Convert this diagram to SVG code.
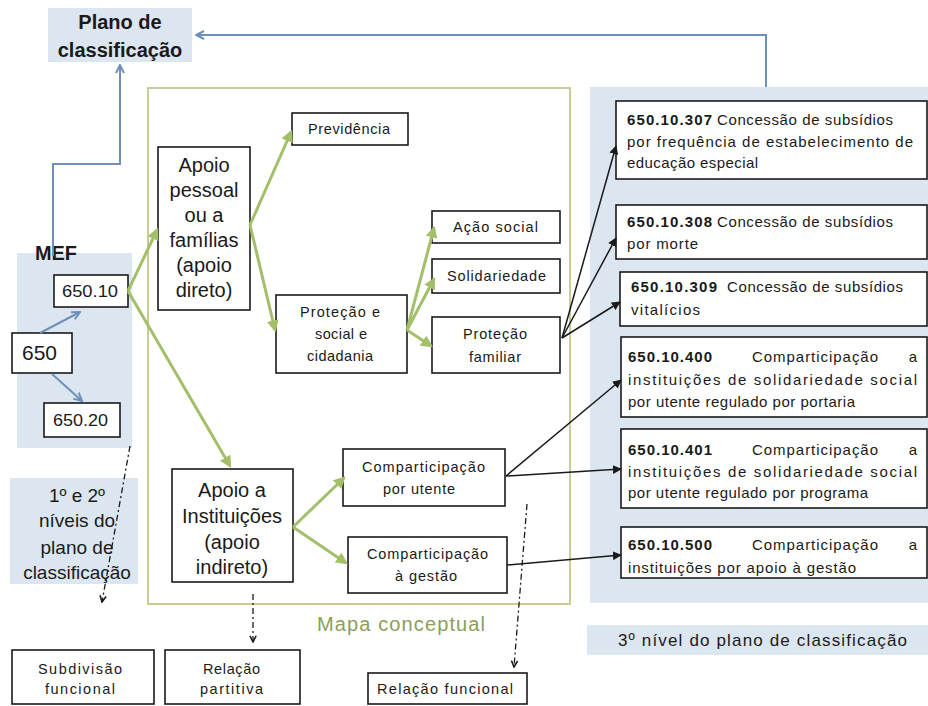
<svg xmlns="http://www.w3.org/2000/svg" width="928" height="706" viewBox="0 0 928 706">
<defs>
<style>
.box{fill:#fff;stroke:#1a1a1a;stroke-width:1.6}
.blue{fill:#dce6f1}
.t{font-family:"Liberation Sans",Arial,sans-serif;fill:#1a1a1a}
.s13{font-size:14.5px}
.s14{font-size:15px}
.big{font-size:20px}
.b{font-weight:bold}
.g{stroke:#a3bf6a;stroke-width:3;fill:none}
.k{stroke:#1a1a1a;stroke-width:1.5;fill:none}
.bl{stroke:#6e8fba;stroke-width:2;fill:none}
.d{stroke:#1a1a1a;stroke-width:1.3;fill:none;stroke-dasharray:6 3 2 3}
</style>
<marker id="mg" viewBox="0 0 10 10" refX="8" refY="5" markerWidth="4" markerHeight="4" orient="auto" markerUnits="strokeWidth"><path d="M0,0 L10,5 L0,10 z" fill="#a3bf6a"/></marker>
<marker id="mk" viewBox="0 0 10 10" refX="9" refY="5" markerWidth="6" markerHeight="6" orient="auto" markerUnits="strokeWidth"><path d="M0,0 L10,5 L0,10 z" fill="#1a1a1a"/></marker>
<marker id="mb" viewBox="0 0 10 10" refX="9" refY="5" markerWidth="5" markerHeight="5" orient="auto" markerUnits="strokeWidth"><path d="M1,1 L9,5 L1,9" fill="none" stroke="#6e8fba" stroke-width="2"/></marker>
<marker id="md" viewBox="0 0 10 10" refX="9" refY="5" markerWidth="6" markerHeight="6" orient="auto" markerUnits="strokeWidth"><path d="M1,1 L9,5 L1,9" fill="none" stroke="#1a1a1a" stroke-width="2"/></marker>
</defs>
<rect width="928" height="706" fill="#fff"/>

<g id="panels">
<rect class="blue" x="17" y="253" width="115" height="195"/>
<rect class="blue" x="10" y="478" width="128" height="106"/>
<rect class="blue" x="590" y="87" width="338" height="516"/>
<rect class="blue" x="587" y="625" width="341" height="30"/>
<rect x="148" y="88" width="422" height="516" fill="none" stroke="#c9cd95" stroke-width="2"/>
</g>

<g id="plano">
<rect class="blue" x="48" y="8" width="144" height="54"/>
<text class="t big b" x="120" y="29" text-anchor="middle">Plano de</text>
<text class="t big b" x="120" y="57" text-anchor="middle">classificação</text>
</g>

<g id="mef-label"><text class="t big b" x="35" y="260" textLength="42" lengthAdjust="spacingAndGlyphs">MEF</text></g>

<g id="n650-10"><rect class="box" x="54" y="275" width="74" height="32"/><text class="t" font-size="16" x="62" y="297" textLength="56" lengthAdjust="spacingAndGlyphs">650.10</text></g>
<g id="n650"><rect class="box" x="12" y="333" width="60" height="40"/><text class="t" font-size="21" x="22" y="360" textLength="35" lengthAdjust="spacingAndGlyphs">650</text></g>
<g id="n650-20"><rect class="box" x="44" y="403" width="76" height="34"/><text class="t" font-size="16" x="53" y="426" textLength="55" lengthAdjust="spacingAndGlyphs">650.20</text></g>

<g id="niveis12">
<text class="t" font-size="19" x="77" y="502" text-anchor="middle">1º e 2º</text>
<text class="t" font-size="19" x="77" y="527" text-anchor="middle">níveis do</text>
<text class="t" font-size="19" x="77" y="554" text-anchor="middle">plano de</text>
<text class="t" font-size="19" x="77" y="579" text-anchor="middle">classificação</text>
</g>

<g id="apoio-pessoal">
<rect class="box" x="158" y="147" width="92" height="163"/>
<text class="t big" x="204" y="172" text-anchor="middle">Apoio</text>
<text class="t big" x="204" y="197" text-anchor="middle">pessoal</text>
<text class="t big" x="204" y="222" text-anchor="middle">ou a</text>
<text class="t big" x="204" y="247" text-anchor="middle">famílias</text>
<text class="t big" x="204" y="272" text-anchor="middle">(apoio</text>
<text class="t big" x="204" y="297" text-anchor="middle">direto)</text>
</g>

<g id="previdencia"><rect class="box" x="292" y="113" width="116" height="32"/><text class="t s13" x="308" y="134" textLength="82" lengthAdjust="spacing">Previdência</text></g>
<g id="acao-social"><rect class="box" x="432" y="211" width="128" height="32"/><text class="t s13" x="453" y="232" textLength="85" lengthAdjust="spacing">Ação social</text></g>
<g id="solidariedade"><rect class="box" x="432" y="259" width="128" height="34"/><text class="t s13" x="447" y="281" textLength="99" lengthAdjust="spacing">Solidariedade</text></g>
<g id="protecao-familiar"><rect class="box" x="432" y="317" width="128" height="56"/>
<text class="t s13" x="463" y="339" textLength="64" lengthAdjust="spacing">Proteção</text>
<text class="t s13" x="469" y="362" textLength="52" lengthAdjust="spacing">familiar</text></g>
<g id="protecao-social"><rect class="box" x="276" y="295" width="131" height="78"/>
<text class="t s13" x="300" y="317" textLength="80" lengthAdjust="spacing">Proteção e</text>
<text class="t s13" x="315" y="339" textLength="52" lengthAdjust="spacing">social e</text>
<text class="t s13" x="307" y="361" textLength="66" lengthAdjust="spacing">cidadania</text></g>

<g id="apoio-instituicoes">
<rect class="box" x="172" y="469" width="121" height="113"/>
<text class="t big" x="232" y="497" text-anchor="middle">Apoio a</text>
<text class="t big" x="232" y="523" text-anchor="middle">Instituições</text>
<text class="t big" x="232" y="549" text-anchor="middle">(apoio</text>
<text class="t big" x="232" y="574" text-anchor="middle">indireto)</text>
</g>

<g id="comp-utente"><rect class="box" x="343" y="449" width="162" height="57"/>
<text class="t s13" x="362" y="472" textLength="123" lengthAdjust="spacing">Comparticipação</text>
<text class="t s13" x="383" y="494" textLength="72" lengthAdjust="spacing">por utente</text></g>
<g id="comp-gestao"><rect class="box" x="348" y="537" width="159" height="56"/>
<text class="t s13" x="367" y="559" textLength="121" lengthAdjust="spacing">Comparticipação</text>
<text class="t s13" x="395" y="581" textLength="62" lengthAdjust="spacing">à gestão</text></g>

<g id="mapa-label"><text class="t" font-size="20" x="317" y="631" textLength="168" lengthAdjust="spacing" style="fill:#8c9e5a">Mapa conceptual</text></g>

<g id="subdivisao"><rect class="box" x="12" y="650" width="142" height="54"/>
<text class="t s13" x="38" y="674" textLength="84" lengthAdjust="spacing">Subdivisão</text>
<text class="t s13" x="45" y="694" textLength="70" lengthAdjust="spacing">funcional</text></g>
<g id="partitiva"><rect class="box" x="165" y="650" width="135" height="54"/>
<text class="t s13" x="203" y="674" textLength="57" lengthAdjust="spacing">Relação</text>
<text class="t s13" x="200" y="694" textLength="63" lengthAdjust="spacing">partitiva</text></g>
<g id="funcional"><rect class="box" x="368" y="673" width="159" height="31"/>
<text class="t s13" x="377" y="694" textLength="136" lengthAdjust="spacing">Relação   funcional</text></g>

<g id="c307"><rect class="box" x="616" y="101" width="311" height="78"/>
<text class="t s14 b" x="627" y="125" textLength="85" lengthAdjust="spacing">650.10.307</text>
<text class="t s14" x="717" y="125" textLength="176" lengthAdjust="spacing">Concessão de subsídios</text>
<text class="t s14" x="627" y="147" textLength="286" lengthAdjust="spacing">por frequência  de estabelecimento  de</text>
<text class="t s14" x="627" y="168" textLength="131" lengthAdjust="spacing">educação especial</text></g>
<g id="c308"><rect class="box" x="616" y="205" width="311" height="54"/>
<text class="t s14 b" x="627" y="227" textLength="85" lengthAdjust="spacing">650.10.308</text>
<text class="t s14" x="717" y="227" textLength="176" lengthAdjust="spacing">Concessão de subsídios</text>
<text class="t s14" x="627" y="249" textLength="71" lengthAdjust="spacing">por morte</text></g>
<g id="c309"><rect class="box" x="620" y="272" width="307" height="54"/>
<text class="t s14 b" x="631" y="292" textLength="86" lengthAdjust="spacing">650.10.309</text>
<text class="t s14" x="727" y="292" textLength="176" lengthAdjust="spacing">Concessão de subsídios</text>
<text class="t s14" x="631" y="315" textLength="69" lengthAdjust="spacing">vitalícios</text></g>
<g id="c400"><rect class="box" x="621" y="337" width="306" height="80"/>
<text class="t s14 b" x="628" y="362" textLength="84" lengthAdjust="spacing">650.10.400</text>
<text class="t s14" x="752" y="362" textLength="126" lengthAdjust="spacing">Comparticipação</text>
<text class="t s14" x="917" y="362" text-anchor="end">a</text>
<text class="t s14" x="628" y="385" textLength="289" lengthAdjust="spacing">instituições  de  solidariedade  social</text>
<text class="t s14" x="628" y="407" textLength="227" lengthAdjust="spacing">por utente regulado  por portaria</text></g>
<g id="c401"><rect class="box" x="621" y="429" width="306" height="79"/>
<text class="t s14 b" x="628" y="455" textLength="84" lengthAdjust="spacing">650.10.401</text>
<text class="t s14" x="752" y="455" textLength="126" lengthAdjust="spacing">Comparticipação</text>
<text class="t s14" x="917" y="455" text-anchor="end">a</text>
<text class="t s14" x="628" y="477" textLength="289" lengthAdjust="spacing">instituições  de  solidariedade  social</text>
<text class="t s14" x="628" y="498" textLength="240" lengthAdjust="spacing">por utente regulado  por programa</text></g>
<g id="c500"><rect class="box" x="621" y="527" width="306" height="51"/>
<text class="t s14 b" x="628" y="550" textLength="84" lengthAdjust="spacing">650.10.500</text>
<text class="t s14" x="752" y="550" textLength="126" lengthAdjust="spacing">Comparticipação</text>
<text class="t s14" x="917" y="550" text-anchor="end">a</text>
<text class="t s14" x="628" y="573" textLength="228" lengthAdjust="spacing">instituições por apoio à gestão</text></g>

<g id="nivel3-label"><text class="t" font-size="17" x="618" y="646" textLength="289" lengthAdjust="spacing">3º nível do plano de classificação</text></g>

<g id="connectors">
<path class="bl" d="M766,87 V35 H196" marker-end="url(#mb)"/>
<path class="bl" d="M53,256 V164 H120 V65" marker-end="url(#mb)"/>
<path class="bl" d="M40,333 L80,312" marker-end="url(#mb)"/>
<path class="bl" d="M52,374 L82,401" marker-end="url(#mb)"/>

<path class="g" d="M128,291 L157,230" marker-end="url(#mg)"/>
<path class="g" d="M128,291 L230,466" marker-end="url(#mg)"/>
<path class="g" d="M250,225 L291,132" marker-end="url(#mg)"/>
<path class="g" d="M250,225 L275,330" marker-end="url(#mg)"/>
<path class="g" d="M407,330 L434,228" marker-end="url(#mg)"/>
<path class="g" d="M407,330 L434,279" marker-end="url(#mg)"/>
<path class="g" d="M407,330 L431,346" marker-end="url(#mg)"/>
<path class="g" d="M293,527 L344,478" marker-end="url(#mg)"/>
<path class="g" d="M293,527 L346,563" marker-end="url(#mg)"/>

<path class="k" d="M562,338 L616,146" marker-end="url(#mk)"/>
<path class="k" d="M562,338 L616,238" marker-end="url(#mk)"/>
<path class="k" d="M562,338 L620,302" marker-end="url(#mk)"/>
<path class="k" d="M506,476 L621,380" marker-end="url(#mk)"/>
<path class="k" d="M506,476 L621,469" marker-end="url(#mk)"/>
<path class="k" d="M507,565 L621,555" marker-end="url(#mk)"/>

<path class="d" d="M130,446 L102,602" marker-end="url(#md)"/>
<path class="d" d="M253,594 L253,642" marker-end="url(#md)"/>
<path class="d" d="M527,504 L514,667" marker-end="url(#md)"/>
</g>
</svg>
